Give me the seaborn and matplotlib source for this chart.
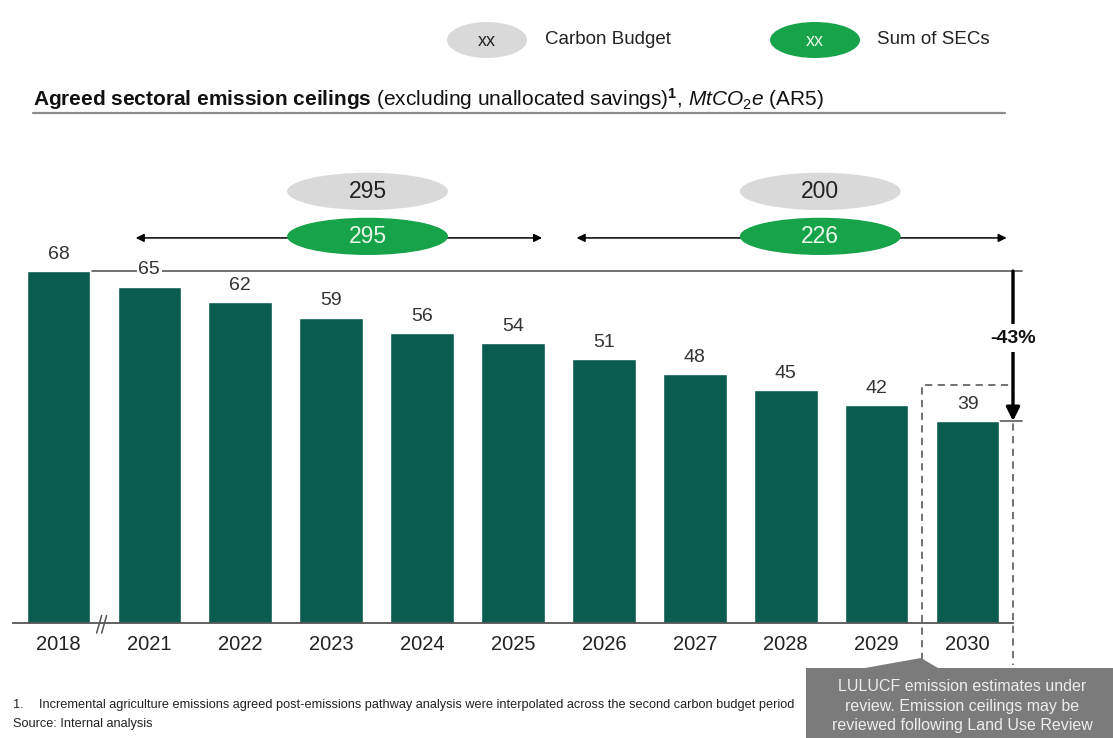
import matplotlib.pyplot as plt
import seaborn as sns
import pandas as pd
from matplotlib.patches import Ellipse, Polygon
from matplotlib.lines import Line2D

# data
years = ['2018', '2021', '2022', '2023', '2024', '2025', '2026', '2027', '2028', '2029', '2030']
ceilings = [68, 65, 62, 59, 56, 54, 51, 48, 45, 42, 39]
budget_labels = ['295', '200']
sec_labels = ['295', '226']
reduction_label = '-43%'

BAR = '#0a5c4f'
GREEN = '#17a34a'
GREY = '#d9d9d9'

W, H = 1113, 738


def fpx(x, y):
    # figure pixel -> figure fraction
    return x / W, 1 - y / H


sns.set_style('white')
plt.rcParams['font.family'] = ['Liberation Sans', 'DejaVu Sans']
plt.rcParams['mathtext.fontset'] = 'custom'
plt.rcParams['mathtext.rm'] = 'Liberation Sans'
plt.rcParams['mathtext.it'] = 'Liberation Sans:italic'
plt.rcParams['mathtext.bf'] = 'Liberation Sans:bold'

fig = plt.figure(figsize=(W / 100, H / 100), dpi=100)
ax = fig.add_axes([13 / W, (H - 622.7) / H, 1000 / W, (622.7 - 165) / H])

df = pd.DataFrame({'year': years, 'ceiling': ceilings})
sns.barplot(data=df, x='year', y='ceiling', color=BAR, saturation=1, width=0.7, ax=ax, zorder=2)
ax.set_xlim(-0.5, 10.5)
ax.set_ylim(0, 88.5)
ax.set_xlabel('')
ax.set_ylabel('')
ax.set_yticks([])
for s in ['top', 'left', 'right']:
    ax.spines[s].set_visible(False)
ax.spines['bottom'].set_color('#555555')
ax.spines['bottom'].set_linewidth(1.3)
ax.tick_params(axis='x', length=0, labelsize=14.5, pad=9, labelcolor='#222222')

labels = ax.bar_label(ax.containers[0], padding=6, fontsize=14, color='#333333')
for t in labels:
    t.set_bbox(dict(facecolor='white', edgecolor='none', pad=1))
    t.set_zorder(5)

# reference line at the 2018 level
ax.plot([0.37, 10.6], [ceilings[0], ceilings[0]], color='#666666', lw=1.3, zorder=1, clip_on=False)
ax.plot([10.36, 10.6], [ceilings[-1], ceilings[-1]], color='#666666', lw=1.3, zorder=1, clip_on=False)

# axis break marks
for dx in [0, 0.055]:
    ax.plot([0.42 + dx, 0.475 + dx], [-2.0, 1.4], color='#555555', lw=1.1, clip_on=False, zorder=6)

# carbon budget periods
periods = [(0.85, 5.32, 3.40), (5.70, 10.43, 8.38)]
for (x0, x1, xc), b, s in zip(periods, budget_labels, sec_labels):
    ax.annotate('', xy=(x0, 74.4), xytext=(x1, 74.4), annotation_clip=False,
                arrowprops=dict(arrowstyle='<|-|>', color='black', lw=1.1, mutation_scale=12,
                                shrinkA=0, shrinkB=0))
    ax.add_patch(Ellipse((xc, 83.4), 1.77, 7.2, facecolor=GREY, edgecolor='none', zorder=4))
    ax.add_patch(Ellipse((xc, 74.7), 1.77, 7.2, facecolor=GREEN, edgecolor='none', zorder=4))
    ax.text(xc, 83.4, b, ha='center', va='center', fontsize=16.5, color='#222222', zorder=5)
    ax.text(xc, 74.7, s, ha='center', va='center', fontsize=16.5, color='#e6f7e9', zorder=5)

# -43% arrow
ax.annotate('', xy=(10.5, ceilings[-1]), xytext=(10.5, ceilings[0]), annotation_clip=False,
            arrowprops=dict(arrowstyle='-|>', color='black', lw=2.4, mutation_scale=20,
                            shrinkA=0, shrinkB=0), zorder=6)
ax.text(10.5, 55, reduction_label, ha='center', va='center', fontsize=14, weight='bold',
        color='#111111', zorder=7, clip_on=False,
        bbox=dict(facecolor='white', edgecolor='none', pad=4))

# dashed box round 2030
ax.plot([9.5, 9.5, 10.5, 10.5], [-7.2, 46, 46, -8.2], color='#666666', lw=1.3,
        ls=(0, (4, 3)), clip_on=False, zorder=3)

# legend
fig.add_artist(Ellipse(fpx(487, 40), 80 / W, 36 / H, facecolor=GREY, edgecolor='none',
                       transform=fig.transFigure))
fig.text(*fpx(487, 41), 'xx', ha='center', va='center', fontsize=13, color='#222222')
fig.text(*fpx(545, 39), 'Carbon Budget', ha='left', va='center', fontsize=13.5, color='#222222')
fig.add_artist(Ellipse(fpx(815, 40), 90 / W, 36 / H, facecolor=GREEN, edgecolor='none',
                       transform=fig.transFigure))
fig.text(*fpx(815, 41), 'xx', ha='center', va='center', fontsize=13, color='#e6f7e9')
fig.text(*fpx(877, 39), 'Sum of SECs', ha='left', va='center', fontsize=13.5, color='#222222')

# title
fig.text(*fpx(33, 99),
         r'$\mathbf{Agreed\ sectoral\ emission\ ceilings}$ (excluding unallocated savings)$^\mathbf{1}$, '
         r'$\mathit{MtCO_2e}$ (AR5)',
         ha='left', va='center', fontsize=15, color='#111111')
fig.add_artist(Line2D([33 / W, 1005 / W], [1 - 113 / H, 1 - 113 / H], color='#8c8c8c', lw=1.6,
                      transform=fig.transFigure))

# footnotes
fig.text(*fpx(13, 705), '1.', ha='left', va='center', fontsize=9.2, color='#222222')
fig.text(*fpx(39, 705),
         'Incremental agriculture emissions agreed post-emissions pathway analysis were interpolated '
         'across the second carbon budget period',
         ha='left', va='center', fontsize=9.2, color='#222222')
fig.text(*fpx(13, 724), 'Source: Internal analysis', ha='left', va='center', fontsize=9.2, color='#222222')

# callout
pts = [(806, 668), (865, 668), (921, 658), (938, 668), (1113, 668), (1113, 738), (806, 738)]
fig.add_artist(Polygon([fpx(x, y) for x, y in pts], closed=True, facecolor='#7b7b7b',
                       edgecolor='none', transform=fig.transFigure))
fig.text(*fpx(962, 706),
         'LULUCF emission estimates under\nreview. Emission ceilings may be\nreviewed following Land Use Review',
         ha='center', va='center', fontsize=11.5, color='#ededed', linespacing=1.35)

plt.savefig('out.png', dpi=100)
